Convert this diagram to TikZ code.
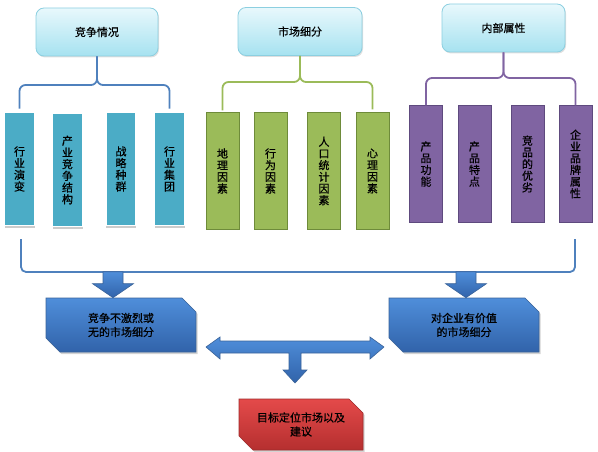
\documentclass[tikz,border=0pt]{standalone}
\usepackage{fontspec}
\newfontfamily\cjk[FakeBold=0.6]{Noto Sans CJK SC}
\usetikzlibrary{shapes.misc,shadows,calc}
\definecolor{tealf}{HTML}{4BACC6}
\definecolor{greenf}{HTML}{9BBB59}
\definecolor{greend}{HTML}{6E8B3A}
\definecolor{purplef}{HTML}{8064A2}
\definecolor{purpled}{HTML}{5E4A7E}
\definecolor{bluel}{HTML}{4F81BD}
\definecolor{bluetop}{HTML}{4F8EDA}
\definecolor{bluebot}{HTML}{3163AA}
\definecolor{blued}{HTML}{3A6399}
\definecolor{redtop}{HTML}{E44A4A}
\definecolor{redbot}{HTML}{B52F2F}
\definecolor{redd}{HTML}{9E2B2B}
\definecolor{cyantop}{HTML}{E8F8FC}
\definecolor{cyanbot}{HTML}{A6E2F0}
\definecolor{cyand}{HTML}{8CCFE0}
\begin{document}
\begin{tikzpicture}[x=1pt,y=-1pt,
  every node/.style={font=\cjk\fontsize{11}{11.7}\selectfont, text=black, inner sep=0pt, align=center},
  headbox/.style={rectangle, rounded corners=8pt, draw=cyand, line width=0.8pt,
    top color=cyantop, bottom color=cyanbot, minimum height=48pt,
    drop shadow={shadow xshift=1pt, shadow yshift=-1.5pt, opacity=0.25}},
  tallbox/.style={rectangle, minimum height=116pt, minimum width=33pt},
  tealbox/.style={tallbox, fill=tealf, draw=white, line width=1.5pt, minimum height=113pt, minimum width=30pt,
    drop shadow={shadow xshift=0pt, shadow yshift=-2pt, opacity=0.4, fill=gray}},
  greenbox/.style={tallbox, fill=greenf, draw=greend, line width=1pt},
  purplebox/.style={tallbox, fill=purplef, draw=purpled, line width=1pt},
  snipbox/.style={chamfered rectangle, chamfered rectangle corners={north east,south west},
    chamfered rectangle xsep=7pt, chamfered rectangle ysep=7pt, inner sep=0pt,
    font=\cjk\fontsize{11}{14}\selectfont,
    drop shadow={shadow xshift=1.5pt, shadow yshift=-2pt, opacity=0.35}},
  bluebox/.style={snipbox, top color=bluetop, bottom color=bluebot, draw=blued, line width=0.6pt,
    minimum width=150pt, minimum height=54pt},
  redbox/.style={snipbox, top color=redtop, bottom color=redbot, draw=redd, line width=0.6pt,
    minimum width=124pt, minimum height=51pt},
  bracestyle/.style={line width=1.8pt, rounded corners=6pt},
  blockarrow/.style={top color=bluetop, bottom color=bluebot, draw=blued, line width=0.6pt, line join=miter}
]
\useasboundingbox (0,0) rectangle (598,452);

% head boxes
\node[headbox, minimum width=122pt] (c1) at (97,32) {竞争情况};
\node[headbox, minimum width=124pt] (c2) at (300,31.5) {市场细分};
\node[headbox, minimum width=123pt] (c3) at (503.5,28) {内部属性};

% teal boxes
\node[tealbox] (t1) at (19.5,169) {行\\业\\演\\变};
\node[tealbox] (t2) at (67.5,170) {产\\业\\竞\\争\\结\\构};
\node[tealbox] (t3) at (121,169) {战\\略\\种\\群};
\node[tealbox] (t4) at (169.5,169) {行\\业\\集\\团};

% green boxes
\node[greenbox] (g1) at (222.5,171) {地\\理\\因\\素};
\node[greenbox] (g2) at (270.5,171) {行\\为\\因\\素};
\node[greenbox] (g3) at (324,171) {人\\口\\统\\计\\因\\素};
\node[greenbox] (g4) at (372.5,171) {心\\理\\因\\素};

% purple boxes
\node[purplebox] (p1) at (426,164) {产\\品\\功\\能};
\node[purplebox] (p2) at (474.5,164) {产\\品\\特\\点};
\node[purplebox] (p3) at (527.5,164) {竞\\品\\的\\优\\劣};
\node[purplebox] (p4) at (575.5,164) {企\\业\\品\\牌\\属\\性};

% braces
\coordinate (h1) at (97,85);
\draw[bracestyle, bluel] ([yshift=3pt]t1.north) |- (h1) -- (c1.south);
\draw[bracestyle, bluel] ([yshift=3pt]t4.north) |- (h1) -- (c1.south);
\coordinate (h2) at (300,82);
\draw[bracestyle, greenf] ([yshift=2pt]g1.north) |- (h2) -- (c2.south);
\draw[bracestyle, greenf] ([yshift=3pt]g4.north) |- (h2) -- (c2.south);
\coordinate (h3) at (503.5,78);
\draw[bracestyle, purplef] ([yshift=0pt]p1.north) |- (h3) -- (c3.south);
\draw[bracestyle, purplef] ([yshift=0pt]p4.north) |- (h3) -- (c3.south);

% bottom boxes
\node[bluebox] (b1) at (121,325) {竞争不激烈或\\无的市场细分};
\node[bluebox] (b2) at (464,325) {对企业有价值\\的市场细分};
\node[redbox] (r) at (301,424.5) {目标定位市场以及\\建议};

% big bracket
\coordinate (bl) at (21,239);
\coordinate (br) at (575,239);
\coordinate (bh) at (300,272);
\draw[line width=1.8pt, bluel, rounded corners=5pt] (bl) |- (bh) -| (br);

% down arrows
\coordinate (a1) at (113,272);
\coordinate (a2) at (466,272);
\draw[blockarrow] (a1 |- b1.north) -- ++(-20.5,-14) -- ++(10.5,0) -- ++(0,-12) -- ++(20,0) -- ++(0,12) -- ++(10.5,0) -- cycle;
\draw[blockarrow] (a2 |- b2.north) -- ++(-20.5,-14) -- ++(10.5,0) -- ++(0,-12) -- ++(20,0) -- ++(0,12) -- ++(10.5,0) -- cycle;

% double arrow with down branch
\coordinate (dl) at (206,347);
\coordinate (dr) at (384,347);
\coordinate (dd) at (295,383);
\draw[blockarrow] (dl) -- ++(14,-10) -- ++(0,4) -- (370,341) -- (370,337) -- (dr)
  -- (370,359) -- (370,353) -- (301,353) -- (301,370) -- (307,370) -- (dd)
  -- (283,370) -- (289,370) -- (289,353) -- (220,353) -- (220,359) -- cycle;
\end{tikzpicture}
\end{document}
